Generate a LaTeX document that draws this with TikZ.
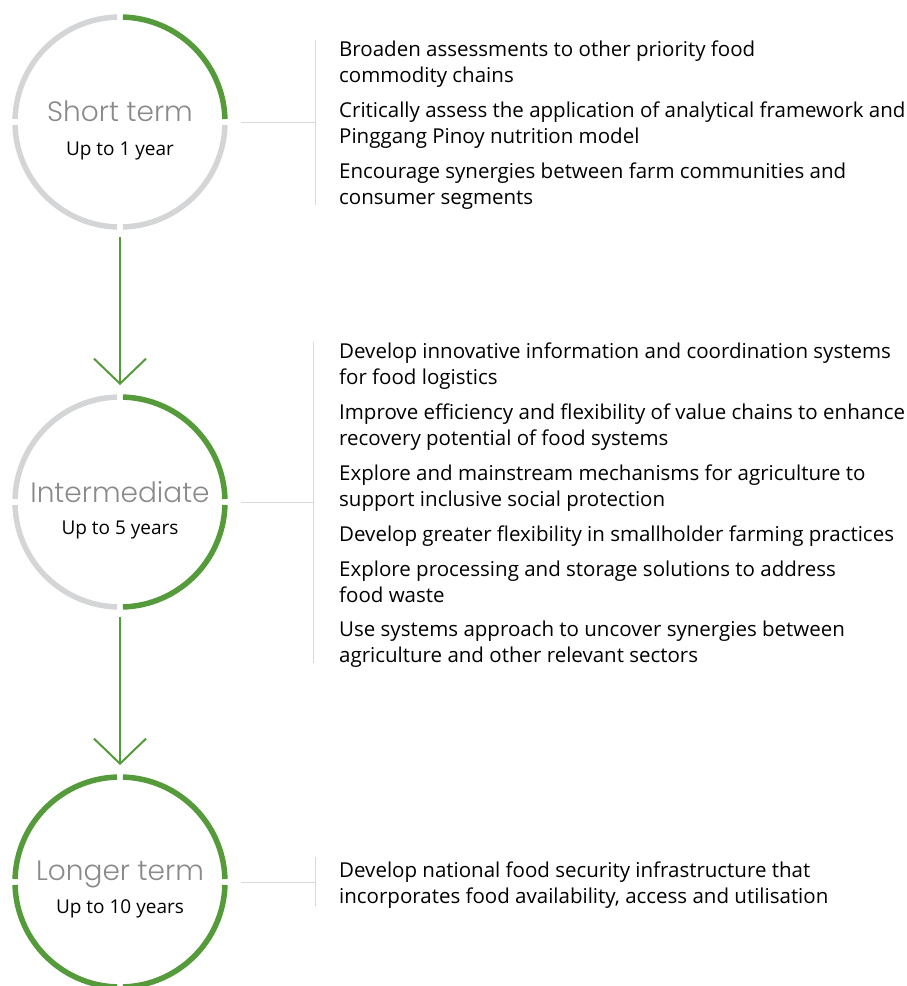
\documentclass[tikz,border=0pt]{standalone}
\usepackage{fontspec}
\setmainfont{Open Sans}
\newfontfamily\termfont{Poppins Light}
\usetikzlibrary{positioning,arrows.meta}
\definecolor{leaf}{HTML}{559A3B}
\definecolor{rim}{HTML}{D4D5D6}
\definecolor{rule}{HTML}{D9D9D9}
\definecolor{termgrey}{HTML}{8A8A8A}

\begin{document}
\begin{tikzpicture}[x=1pt,y=-1pt]
    \tikzstyle{stage}=[circle, minimum size=215.5pt, inner sep=0pt]
    \tikzstyle{ring}=[line width=5.5pt]
    \tikzstyle{term}=[anchor=base, font=\termfont\fontsize{28}{28}\selectfont, text=termgrey]
    \tikzstyle{span}=[anchor=base, font=\fontsize{19}{19}\selectfont]
    \tikzstyle{item}=[anchor=base west, align=left, inner sep=0pt, font=\fontsize{20.5}{26}\selectfont]
    \tikzstyle{link}=[rule, line width=1pt]
    \tikzstyle{flow}=[leaf, line width=2pt, -{Straight Barb[length=25pt, width=52pt]}]
    \useasboundingbox (0,0) rectangle (907,986);

    \node[stage] (short) at (120,122) {};
    \node[stage] (mid) at (120,502) {};
    \node[stage] (long) at (120,882) {};

    % quarter rings (angles run clockwise here, y points down)
    \foreach \a/\hue in {0/rim, 90/rim, 180/rim, 270/leaf}
      \draw[ring, \hue] ([shift={(\a+1.6:105)}]short.center) arc (\a+1.6:\a+88.4:105);
    \foreach \a/\hue in {0/leaf, 90/rim, 180/rim, 270/leaf}
      \draw[ring, \hue] ([shift={(\a+1.6:105)}]mid.center) arc (\a+1.6:\a+88.4:105);
    \foreach \a in {0, 90, 180, 270}
      \draw[ring, leaf] ([shift={(\a+1.6:105)}]long.center) arc (\a+1.6:\a+88.4:105);

    \node[term] (short-t) at ([yshift=1pt]short.center) {Short term};
    \node[span] (short-s) at ([yshift=-33pt]short.center) {Up to 1 year};
    \node[term] (mid-t) at (mid.center) {Intermediate};
    \node[span] (mid-s) at ([yshift=-32pt]mid.center) {Up to 5 years};
    \node[term] (long-t) at ([yshift=2pt]long.center) {Longer term};
    \node[span] (long-s) at ([yshift=-31pt]long.center) {Up to 10 years};

    % arrows between stages
    \draw[flow] ([yshift=-7pt]short.south) -- ([yshift=9pt]mid.north);
    \draw[flow] ([yshift=-7pt]mid.south) -- ([yshift=9pt]long.north);

    % brackets
    \coordinate (short-top) at (315,40);
    \coordinate (short-bot) at (315,205);
    \coordinate (mid-top) at (313,342);
    \coordinate (mid-bot) at (313,663);
    \coordinate (long-top) at (315,857);
    \coordinate (long-bot) at (315,906);
    \draw[link] (short-top) -- (short-bot);
    \draw[link] (mid-top) -- (mid-bot);
    \draw[link] (long-top) -- (long-bot);
    \draw[link] ([xshift=13pt]short.east) -- (short-top |- short.east);
    \draw[link] ([xshift=13pt]mid.east) -- (mid-top |- mid.east);
    \draw[link] ([xshift=13pt]long.east) -- (long-top |- long.east);

    % actions (base = last line)
    \foreach \y/\txt [count=\i] in {
        82.7/{Broaden assessments to other priority food\\commodity chains},
        143.7/{Critically assess the application of analytical framework and\\Pinggang Pinoy nutrition model},
        204.7/{Encourage synergies between farm communities and\\consumer segments}}
      \node[item] (short-\i) at (339,\y) {\txt};
    \foreach \y/\txt [count=\i] in {
        384.5/{Develop innovative information and coordination systems\\for food logistics},
        445/{Improve efficiency and flexibility of value chains to enhance\\recovery potential of food systems},
        506/{Explore and mainstream mechanisms for agriculture to\\support inclusive social protection},
        541/{Develop greater flexibility in smallholder farming practices},
        602/{Explore processing and storage solutions to address\\food waste},
        662.5/{Use systems approach to uncover synergies between\\agriculture and other relevant sectors}}
      \node[item] (mid-\i) at (339,\y) {\txt};
    \node[item] (long-1) at (339,903) {Develop national food security infrastructure that\\incorporates food availability, access and utilisation};
\end{tikzpicture}
\end{document}
